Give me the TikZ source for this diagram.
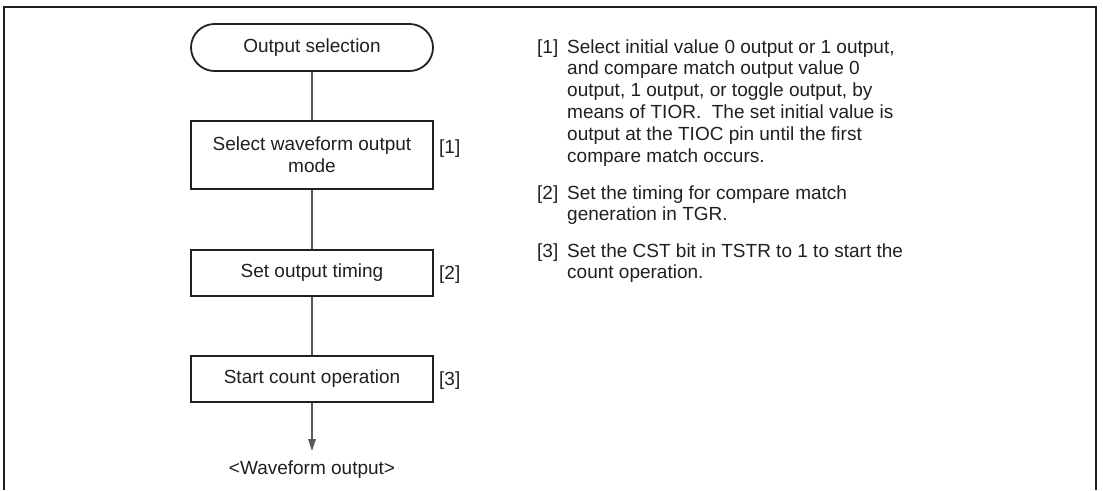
\documentclass[tikz,border=0pt]{standalone}
\usepackage{fontspec}
\setmainfont{Liberation Sans}
\usetikzlibrary{arrows.meta}
\definecolor{ink}{HTML}{231F20}
\tikzset{
  every node/.style={font=\fontsize{19}{21.8}\selectfont, text=ink},
  term/.style={draw=ink, line width=1.8pt, rounded corners=23.5pt, minimum width=242pt, minimum height=47pt, inner sep=0pt},
  stepbox/.style={draw=ink, line width=2.6pt, minimum width=242pt, inner sep=0pt, align=center},
  conn/.style={draw=ink!75, line width=1.1pt},
  tag/.style={anchor=base west, inner sep=0pt},
}
\newcommand{\lines}[1]{\begin{tabular}[t]{@{}l@{}}#1\end{tabular}}
\begin{document}
\begin{tikzpicture}[x=1pt,y=-1pt]
\useasboundingbox (0,0) rectangle (1103,490);
\draw[line width=2pt, ink] (4,490) -- (4,7) -- (1096,7) -- (1096,490);

\node[term] (start) at (312,47.5) {Output selection};
\node[stepbox, minimum height=68pt] (b1) at (312,155) {Select waveform output\\mode};
\node[stepbox, minimum height=46pt] (b2) at (312,273) {Set output timing};
\node[stepbox, minimum height=46pt] (b3) at (312,379) {Start count operation};
\coordinate (tip) at (312,451);
\node[anchor=base, inner sep=0pt] (out) at (312,474) {<Waveform output>};

\draw[conn] (start) -- (b1);
\draw[conn] (b1) -- (b2);
\draw[conn] (b2) -- (b3);
\draw[conn, -{Triangle[length=12pt, width=7.5pt]}] (b3) -- (tip);

\node[tag] (l1) at (439,153) {[1]};
\node[tag] (l2) at (439,279) {[2]};
\node[tag] (l3) at (439,385) {[3]};

\node[tag] (n1) at (537,53) {[1]};
\node[tag] (p1) at (567,53) {\lines{Select initial value 0 output or 1 output,\\and compare match output value 0\\output, 1 output, or toggle output, by\\means of TIOR.\ \ The set initial value is\\output at the TIOC pin until the first\\compare match occurs.}};
\node[tag] (n2) at (537,199) {[2]};
\node[tag] (p2) at (567,199) {\lines{Set the timing for compare match\\generation in TGR.}};
\node[tag] (n3) at (537,257) {[3]};
\node[tag] (p3) at (567,257) {\lines{Set the CST bit in TSTR to 1 to start the\\count operation.}};
\end{tikzpicture}
\end{document}
